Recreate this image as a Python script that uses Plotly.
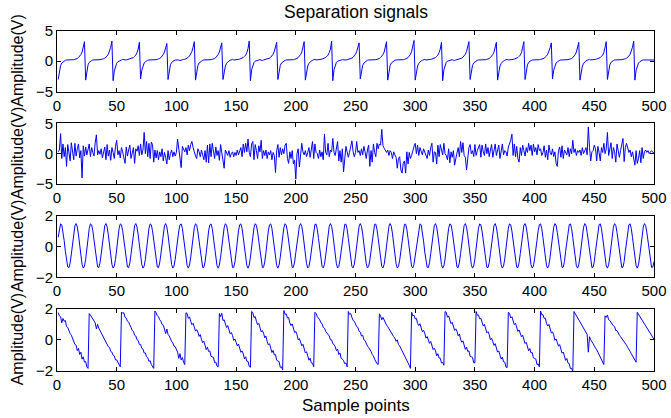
import plotly.graph_objects as go

# ---- separated source signals (500 samples each) ----

# source 1: periodic spike train, one row per period (ends on the spike)
spike_rows = [
    [-3.0, -1.5, -0.7, -0.3, -0.1, 0.1, 0.15, 0.2, 0.2, 0.15, 0.2, 0.25, 0.2, 0.25, 0.3, 0.35, 0.45, 0.6, 0.8, 1.1, 1.5, 2.2, 3.2],
    [-3.1, -1.4, -0.6, -0.2, 0.0, 0.1, 0.2, 0.2, 0.25, 0.2, 0.15, 0.2, 0.25, 0.3, 0.3, 0.4, 0.5, 0.65, 0.85, 1.15, 1.6, 2.3, 3.3],
    [-3.2, -1.6, -0.8, -0.35, -0.1, 0.05, 0.15, 0.2, 0.3, 0.2, 0.2, 0.2, 0.25, 0.3, 0.35, 0.4, 0.5, 0.6, 0.8, 1.0, 1.4, 2.0, 3.1],
    [-2.9, -1.5, -0.7, -0.3, -0.1, 0.1, 0.15, 0.2, 0.2, 0.15, 0.25, 0.2, 0.2, 0.25, 0.3, 0.35, 0.45, 0.6, 0.8, 1.1, 1.5, 2.1, 2.9],
    [-3.0, -1.4, -0.6, -0.2, 0.0, 0.1, 0.2, 0.2, 0.25, 0.2, 0.1, 0.2, 0.25, 0.3, 0.3, 0.4, 0.5, 0.65, 0.85, 1.15, 1.6, 2.3, 3.2],
    [-3.1, -1.5, -0.7, -0.3, -0.1, 0.1, 0.15, 0.2, 0.2, 0.15, 0.2, 0.25, 0.2, 0.25, 0.3, 0.35, 0.45, 0.6, 0.8, 1.1, 1.5, 2.2, 3.0],
    [-3.0, -1.6, -0.8, -0.35, -0.1, 0.05, 0.15, 0.2, 0.3, 0.2, 0.2, 0.2, 0.25, 0.3, 0.35, 0.4, 0.5, 0.6, 0.8, 1.0, 1.4, 2.1, 3.3],
    [-3.2, -1.4, -0.6, -0.2, 0.0, 0.1, 0.2, 0.2, 0.25, 0.2, 0.1, 0.2, 0.25, 0.3, 0.3, 0.4, 0.5, 0.65, 0.85, 1.15, 1.6, 2.3, 3.1],
    [-3.0, -1.5, -0.7, -0.3, -0.1, 0.1, 0.15, 0.2, 0.2, 0.15, 0.2, 0.25, 0.2, 0.25, 0.3, 0.35, 0.45, 0.6, 0.8, 1.1, 1.5, 2.2, 3.2],
    [-3.1, -1.6, -0.8, -0.35, -0.1, 0.05, 0.15, 0.2, 0.3, 0.2, 0.2, 0.2, 0.25, 0.3, 0.35, 0.4, 0.5, 0.6, 0.8, 1.0, 1.4, 2.0, 3.3],
    [-3.2, -1.4, -0.6, -0.2, 0.0, 0.1, 0.2, 0.2, 0.25, 0.2, 0.15, 0.2, 0.25, 0.3, 0.3, 0.4, 0.5, 0.65, 0.85, 1.15, 1.6, 2.3, 3.0],
    [-2.9, -1.5, -0.7, -0.3, -0.1, 0.1, 0.15, 0.2, 0.2, 0.15, 0.25, 0.2, 0.2, 0.25, 0.3, 0.35, 0.45, 0.6, 0.8, 1.1, 1.5, 2.2, 3.2],
    [-3.1, -1.5, -0.7, -0.3, -0.1, 0.1, 0.15, 0.2, 0.2, 0.15, 0.2, 0.25, 0.2, 0.25, 0.3, 0.35, 0.45, 0.6, 0.8, 1.1, 1.6, 2.4, 3.4],
    [-3.1, -1.6, -0.8, -0.35, -0.1, 0.05, 0.15, 0.2, 0.3, 0.2, 0.2, 0.2, 0.25, 0.3, 0.35, 0.4, 0.5, 0.6, 0.8, 1.0, 1.4, 2.0, 3.1],
    [-3.2, -1.4, -0.6, -0.2, 0.0, 0.1, 0.2, 0.2, 0.25, 0.2, 0.1, 0.2, 0.25, 0.3, 0.3, 0.4, 0.5, 0.65, 0.85, 1.15, 1.6, 2.3, 3.2],
    [-3.0, -1.5, -0.7, -0.3, -0.1, 0.1, 0.15, 0.2, 0.2, 0.15, 0.2, 0.25, 0.2, 0.25, 0.3, 0.35, 0.45, 0.6, 0.8, 1.1, 1.5, 2.2, 3.1],
    [-3.1, -1.6, -0.8, -0.35, -0.1, 0.05, 0.15, 0.2, 0.3, 0.2, 0.2, 0.2, 0.25, 0.3, 0.35, 0.4, 0.5, 0.6, 0.8, 1.0, 1.4, 2.1, 3.2],
    [-3.0, -1.4, -0.6, -0.2, 0.0, 0.1, 0.2, 0.2, 0.25, 0.2, 0.15, 0.2, 0.25, 0.3, 0.3, 0.4, 0.5, 0.65, 0.85, 1.15, 1.6, 2.2, 3.0],
    [-2.9, -1.5, -0.7, -0.3, -0.1, 0.1, 0.15, 0.2, 0.2, 0.15, 0.25, 0.2, 0.2, 0.25, 0.3, 0.35, 0.45, 0.6, 0.8, 1.1, 1.5, 2.2, 3.1],
    [-3.1, -1.6, -0.8, -0.35, -0.1, 0.05, 0.15, 0.2, 0.3, 0.2, 0.2, 0.2, 0.25, 0.3, 0.35, 0.4, 0.5, 0.6, 0.8, 1.0, 1.4, 2.1, 3.2],
    [-3.0, -1.4, -0.6, -0.2, 0.0, 0.1, 0.2, 0.2, 0.25, 0.2, 0.15, 0.2, 0.25, 0.3, 0.3, 0.4, 0.5, 0.65, 0.85, 1.15, 1.6, 2.3, 3.3],
]
spike_tail = [-3.1, -1.5, -0.7, -0.3, -0.1, 0.1, 0.15, 0.2, 0.2, 0.15, 0.25, 0.2, 0.2, 0.25, 0.2, 0.25, 0.2]

# source 2: noise-like source, 25 samples per row
noise_rows = [
    [0.3, 0.6, 3.3, -0.8, 1.6, -0.5, 1.0, -2.1, 1.5, 0.3, -1.2, 1.8, 0.2, -1.0, 1.7, -0.4, 0.8, 1.6, -0.7, 0.5, -4.0, 1.3, -0.4, 1.1, -0.2],
    [0.6, 1.6, -0.5, 1.0, 0.2, -0.4, 1.8, 3.1, -0.2, 0.5, -0.1, 0.8, -0.7, 0.3, 1.1, -1.0, 1.5, -0.4, 0.6, -1.1, 1.0, 0.2, -0.8, 1.2, 2.2],
    [-0.2, 0.5, -0.7, 1.0, 0.3, -0.5, -1.6, 1.1, -0.4, 0.6, 1.4, -0.8, 0.3, 1.0, -1.6, 0.8, 0.4, 1.3, -0.3, 1.6, -0.2, 0.6, 3.5, 0.0, 2.0],
    [-0.5, 1.7, -0.8, 1.9, 1.5, -1.4, 0.6, -0.7, 0.5, -1.0, 0.3, -0.5, 0.8, -1.2, 0.2, -0.6, -1.7, 0.5, -1.0, 0.0, 0.6, -0.5, 0.3, -0.4, 0.2],
    [2.4, 0.5, -0.8, -2.3, 1.2, 0.8, 0.3, 1.0, -0.2, 1.4, 0.5, 1.5, 2.0, 1.0, 0.2, -0.4, -0.8, 0.8, 0.3, -0.5, 0.6, -0.2, -1.0, 0.5, -1.4],
    [1.4, -1.5, 1.6, -0.5, 1.7, 0.2, -0.8, 1.1, -0.3, 0.5, -1.1, 1.5, 0.3, -0.6, -2.4, 0.6, 0.2, -0.3, 0.5, -0.6, 0.0, 0.3, -0.5, 0.2, -0.3],
    [0.6, -0.2, 0.3, 1.0, -0.5, 1.6, 0.2, 1.7, 0.3, 2.4, 0.2, -0.5, 1.6, 2.0, -1.0, 1.5, 0.5, -0.8, 1.3, 0.3, 2.2, -0.8, 0.5, -0.3, 0.6],
    [-0.8, 0.3, -0.2, 0.5, -1.0, 0.2, -0.3, -3.1, 0.5, 1.5, -0.6, 1.0, -0.2, 0.8, 0.0, 1.4, 1.7, -0.8, -1.6, 0.3, -0.8, 0.5, -1.7, -1.1, -4.2],
    [0.0, 0.8, -2.2, 0.5, 1.7, 0.3, -0.2, 0.5, -0.5, 0.2, 1.0, -0.6, 0.5, 2.0, -0.8, 1.6, 0.2, 0.0, -0.8, 0.6, -0.5, 0.3, -1.0, 3.2, 0.2],
    [-0.2, 1.7, -0.5, 0.6, 0.3, 2.5, 0.2, -0.3, 1.1, 2.0, -1.2, 0.5, -1.4, 0.8, -3.0, -0.8, 1.2, 0.3, -0.6, 0.2, 1.5, 2.1, 0.3, -0.5, 0.2],
    [2.0, 0.2, 0.5, -0.3, 0.8, -0.2, 1.2, 0.3, -0.8, 0.6, 1.4, -2.1, 0.5, -1.4, 1.6, 0.2, -0.5, 1.7, 0.8, 1.6, 1.4, 4.0, 1.3, 0.9, 0.5],
    [0.2, 0.6, -0.3, 0.5, 0.2, -0.8, 0.3, -0.2, -0.6, -2.4, -0.8, -0.5, -2.7, -3.2, -1.6, -1.2, -3.2, 0.3, -1.7, 0.2, -0.8, -0.3, 0.6, 1.2, 1.7],
    [0.0, 1.4, -0.3, 1.0, 0.5, -0.2, 0.8, 0.3, 0.0, -0.8, 0.6, -0.3, 1.0, 1.7, -1.4, 0.3, 0.2, -1.7, 1.4, -0.5, 1.5, 0.3, -0.2, 1.7, 0.0],
    [-0.3, -1.0, 0.8, -1.5, 0.3, -0.6, 0.5, -1.9, -0.8, 0.5, 1.0, -0.5, 2.0, 0.2, 1.8, -0.3, -0.6, -2.7, -0.6, 1.0, 1.5, 0.0, 0.5, -0.5, 1.5],
    [-0.3, 0.5, 1.2, 1.5, -0.6, 1.4, 0.3, -0.3, 1.6, 0.0, 1.0, -0.5, 0.6, 1.5, -0.6, 0.5, 1.6, -0.3, 0.8, 1.4, -0.8, 0.3, 1.6, -0.2, 0.5],
    [0.3, -0.4, 1.1, 1.6, 2.2, 3.2, -0.3, 1.6, -0.5, 1.2, -0.8, -1.4, 1.0, -0.3, 1.4, 0.5, -0.4, 1.0, 0.2, 1.7, 0.5, 1.4, -0.3, 1.6, 0.3],
    [1.0, -0.2, 1.5, 0.5, 0.8, -0.3, 0.2, 1.3, -0.6, 0.6, -1.0, 1.4, 0.2, -0.2, 0.8, -0.5, 0.3, -1.6, -2.1, 0.5, 1.1, -0.6, 1.3, -0.8, 0.6],
    [0.3, -0.2, 1.0, -0.5, 0.8, 0.0, 2.2, 0.2, 0.8, -0.3, 0.5, 0.2, 0.6, -0.3, 1.0, 0.0, 0.5, 1.0, -0.2, 4.4, 1.0, -1.2, 0.3, 0.5, 1.4],
    [0.8, -1.2, 1.2, 0.2, -1.2, 1.0, 0.2, 1.7, 0.0, 0.8, 3.5, -0.3, 0.5, 1.8, -0.8, 1.0, 0.3, -1.4, 1.6, 0.2, -0.6, 0.5, 1.3, 2.5, -1.3],
    [1.0, 1.7, 1.0, 0.2, 0.6, -0.5, 0.3, -1.0, -1.9, 0.5, -1.6, -0.8, 0.5, -1.5, 1.0, -0.8, 0.3, 0.6, 0.2, 0.5, 0.0, 0.3, 0.5, 0.2, 0.1],
]

# source 3: sinusoid, 25 samples (two periods) per row
sine_rows = [
    [0.61, 1.18, 1.48, 1.42, 1.03, 0.40, -0.32, -0.95, -1.33, -1.37, -1.07, -0.49, 0.23, 0.90, 1.36, 1.50, 1.28, 0.76, 0.07, -0.63, -1.16, -1.40, -1.27, -0.83, -0.16],
    [0.61, 1.18, 1.48, 1.42, 1.03, 0.40, -0.32, -0.95, -1.33, -1.37, -1.07, -0.49, 0.23, 0.90, 1.36, 1.50, 1.28, 0.76, 0.07, -0.63, -1.16, -1.40, -1.27, -0.83, -0.16],
    [0.61, 1.18, 1.48, 1.42, 1.03, 0.40, -0.32, -0.95, -1.33, -1.37, -1.07, -0.49, 0.23, 0.90, 1.36, 1.50, 1.28, 0.76, 0.07, -0.63, -1.16, -1.40, -1.27, -0.83, -0.16],
    [0.61, 1.18, 1.48, 1.42, 1.03, 0.40, -0.32, -0.95, -1.33, -1.37, -1.07, -0.49, 0.23, 0.90, 1.36, 1.50, 1.28, 0.76, 0.07, -0.63, -1.16, -1.40, -1.27, -0.83, -0.16],
    [0.39, 1.02, 1.42, 1.48, 1.19, 0.62, -0.09, -0.77, -1.24, -1.40, -1.20, -0.69, 0.00, 0.70, 1.24, 1.49, 1.39, 0.96, 0.30, -0.42, -1.02, -1.36, -1.35, -1.00, -0.39],
    [0.39, 1.02, 1.42, 1.48, 1.19, 0.62, -0.09, -0.77, -1.24, -1.40, -1.20, -0.69, 0.00, 0.70, 1.24, 1.49, 1.39, 0.96, 0.30, -0.42, -1.02, -1.36, -1.35, -1.00, -0.39],
    [0.39, 1.02, 1.42, 1.48, 1.19, 0.62, -0.09, -0.77, -1.24, -1.40, -1.20, -0.69, 0.00, 0.70, 1.24, 1.49, 1.39, 0.96, 0.30, -0.42, -1.02, -1.36, -1.35, -1.00, -0.39],
    [0.39, 1.02, 1.42, 1.48, 1.19, 0.62, -0.09, -0.77, -1.24, -1.40, -1.20, -0.69, 0.00, 0.70, 1.24, 1.49, 1.39, 0.96, 0.30, -0.42, -1.02, -1.36, -1.35, -1.00, -0.39],
    [0.16, 0.84, 1.33, 1.50, 1.32, 0.83, 0.14, -0.57, -1.12, -1.39, -1.30, -0.88, -0.24, 0.48, 1.09, 1.45, 1.46, 1.13, 0.53, -0.19, -0.85, -1.29, -1.39, -1.15, -0.61],
    [0.16, 0.84, 1.33, 1.50, 1.32, 0.83, 0.14, -0.57, -1.12, -1.39, -1.30, -0.88, -0.24, 0.48, 1.09, 1.45, 1.46, 1.13, 0.53, -0.19, -0.85, -1.29, -1.39, -1.15, -0.61],
    [0.16, 0.84, 1.33, 1.50, 1.32, 0.83, 0.14, -0.57, -1.12, -1.39, -1.30, -0.88, -0.24, 0.48, 1.09, 1.45, 1.46, 1.13, 0.53, -0.19, -0.85, -1.29, -1.39, -1.15, -0.61],
    [0.16, 0.84, 1.33, 1.50, 1.32, 0.83, 0.14, -0.57, -1.12, -1.39, -1.30, -0.88, -0.24, 0.48, 1.09, 1.45, 1.46, 1.13, 0.53, -0.19, -0.85, -1.29, -1.39, -1.15, -0.61],
    [-0.08, 0.63, 1.20, 1.48, 1.42, 1.01, 0.37, -0.35, -0.97, -1.34, -1.37, -1.05, -0.46, 0.26, 0.92, 1.37, 1.50, 1.27, 0.74, 0.04, -0.66, -1.18, -1.40, -1.26, -0.81],
    [-0.08, 0.63, 1.20, 1.48, 1.42, 1.01, 0.37, -0.35, -0.97, -1.34, -1.37, -1.05, -0.46, 0.26, 0.92, 1.37, 1.50, 1.27, 0.74, 0.04, -0.66, -1.18, -1.40, -1.26, -0.81],
    [-0.08, 0.63, 1.20, 1.48, 1.42, 1.01, 0.37, -0.35, -0.97, -1.34, -1.37, -1.05, -0.46, 0.26, 0.92, 1.37, 1.50, 1.27, 0.74, 0.04, -0.66, -1.18, -1.40, -1.26, -0.81],
    [-0.08, 0.63, 1.20, 1.48, 1.42, 1.01, 0.37, -0.35, -0.97, -1.34, -1.37, -1.05, -0.46, 0.26, 0.92, 1.37, 1.50, 1.27, 0.74, 0.04, -0.66, -1.18, -1.40, -1.26, -0.81],
    [-0.31, 0.41, 1.04, 1.43, 1.48, 1.17, 0.59, -0.12, -0.79, -1.25, -1.40, -1.19, -0.67, 0.02, 0.72, 1.26, 1.50, 1.38, 0.93, 0.27, -0.44, -1.04, -1.36, -1.34, -0.98],
    [-0.31, 0.41, 1.04, 1.43, 1.48, 1.17, 0.59, -0.12, -0.79, -1.25, -1.40, -1.19, -0.67, 0.02, 0.72, 1.26, 1.50, 1.38, 0.93, 0.27, -0.44, -1.04, -1.36, -1.34, -0.98],
    [-0.31, 0.41, 1.04, 1.43, 1.48, 1.17, 0.59, -0.12, -0.79, -1.25, -1.40, -1.19, -0.67, 0.02, 0.72, 1.26, 1.50, 1.38, 0.93, 0.27, -0.44, -1.04, -1.36, -1.34, -0.98],
    [-0.31, 0.41, 1.04, 1.43, 1.48, 1.17, 0.59, -0.12, -0.79, -1.25, -1.40, -1.19, -0.67, 0.02, 0.72, 1.26, 1.50, 1.38, 0.93, 0.27, -0.44, -1.04, -1.36, -1.34, -0.98],
]

# source 4: noisy sawtooth, one row per tooth
saw_rows = [
    [1.76, 1.55, 1.50, 1.10, 1.38, 1.20, 1.25, 0.85, 0.80, 0.55, 0.40, 0.30, 0.05, -0.05, -0.30, -0.35, -0.70, -0.55, -0.95, -0.80, -1.25, -1.10, -1.45, -1.40, -1.75, -1.85],
    [1.70, 1.60, 1.45, 1.35, 1.20, 1.10, 0.70, 1.00, 0.75, 0.60, 0.45, 0.30, 0.15, 0.05, -0.20, -0.25, -0.45, -0.50, -0.75, -0.80, -1.00, -1.05, -1.30, -1.30, -1.45, -1.60, -1.75],
    [1.80, 1.72, 1.75, 1.45, 1.40, 1.20, 1.15, 0.90, 0.80, 0.60, 0.55, 0.30, 0.25, 0.00, -0.05, -0.30, -0.30, -0.55, -0.60, -0.85, -0.85, -1.10, -1.15, -1.40, -1.35, -1.60, -1.70, -1.85],
    [1.86, 1.75, 1.55, 1.50, 1.30, 1.20, 1.00, 0.95, 0.70, 0.40, 0.70, 0.35, 0.25, 0.05, -0.10, -0.20, -0.40, -0.45, -0.65, -0.80, -1.20, -0.90, -1.30, -1.15, -1.45, -1.60],
    [1.75, 1.70, 1.39, 1.48, 1.18, 0.98, 1.07, 0.84, 0.56, 0.66, 0.50, 0.22, 0.34, 0.01, -0.18, -0.09, -0.30, -0.63, -0.48, -0.76, -0.72, -1.07, -1.10, -1.13, -1.48, -1.44, -1.70, -1.75],
    [1.70, 1.50, 1.72, 1.25, 1.29, 0.96, 0.80, 0.92, 0.62, 0.39, 0.47, 0.29, -0.04, 0.05, -0.16, -0.39, -0.27, -0.62, -0.81, -0.72, -0.91, -1.24, -1.10, -1.39, -1.40, -1.72, -1.78],
    [1.83, 1.76, 1.44, 1.51, 1.20, 0.98, 1.06, 0.81, 0.52, 0.60, 0.43, 0.13, 0.24, -0.11, -0.33, -0.25, -0.48, -0.82, -0.69, -0.98, -0.96, -1.32, -1.37, -1.41, -1.78, -1.75, -1.95],
    [1.90, 1.65, 1.67, 1.41, 1.44, 1.09, 0.92, 1.03, 0.71, 0.47, 0.54, 0.34, 0.00, 0.08, -0.14, -0.39, -0.29, -0.64, -0.85, -0.77, -0.98, -1.32, -1.19, -1.50, -1.52, -1.75],
    [1.78, 1.70, 1.50, 1.40, 1.30, 1.10, 1.05, 0.80, 0.75, 0.55, 0.45, 0.30, 0.25, 0.00, 0.00, -0.25, -0.30, -0.45, -0.70, -0.60, -0.95, -0.85, -1.20, -1.25, -1.35, -1.55, -1.50, -1.75],
    [1.83, 1.65, 1.70, 1.45, 1.25, 1.20, 1.00, 0.85, 0.80, 0.55, 0.50, 0.25, 0.30, 0.00, -0.05, -0.25, -0.40, -0.50, -0.60, -0.75, -0.95, -1.05, -1.25, -1.45, -1.55, -1.60],
    [1.68, 1.55, 1.30, 1.45, 1.25, 1.15, 0.95, 0.85, 0.70, 0.60, 0.50, 0.30, 0.20, 0.10, -0.10, 0.00, -0.30, -0.40, -0.55, -0.70, -0.85, -1.00, -1.10, -1.30, -1.45, -1.65, -1.85],
    [1.78, 1.55, 1.59, 1.35, 1.39, 1.06, 0.92, 1.04, 0.74, 0.52, 0.61, 0.43, 0.11, 0.21, 0.00, -0.23, -0.11, -0.44, -0.63, -0.54, -0.72, -1.04, -0.90, -1.18, -1.19, -1.50, -1.46, -1.65],
    [1.83, 1.78, 1.46, 1.55, 1.25, 1.04, 1.13, 0.90, 0.61, 0.71, 0.55, 0.26, 0.38, 0.05, -0.16, -0.07, -0.28, -0.62, -0.47, -0.75, -0.72, -1.07, -1.10, -1.14, -1.49, -1.50],
    [1.83, 1.59, 1.61, 1.36, 1.39, 1.05, 0.89, 1.00, 0.69, 0.45, 0.53, 0.34, 0.00, 0.10, -0.12, -0.36, -0.25, -0.60, -0.80, -0.72, -0.92, -1.25, -1.12, -1.42, -1.44, -1.76, -1.80],
    [1.78, 1.72, 1.41, 1.49, 1.19, 0.98, 1.07, 0.83, 0.54, 0.64, 0.47, 0.19, 0.30, -0.04, -0.24, -0.16, -0.37, -0.71, -0.57, -0.85, -0.82, -1.17, -1.21, -1.24, -1.60, -1.56, -1.75],
    [1.86, 1.62, 1.63, 1.38, 1.40, 1.06, 0.89, 1.00, 0.68, 0.44, 0.51, 0.32, -0.03, 0.06, -0.17, -0.41, -0.31, -0.66, -0.87, -0.79, -1.00, -1.33, -1.21, -1.51, -1.54, -1.86, -1.85, -2.05],
    [1.83, 1.70, 1.60, 1.45, 1.30, 1.20, 1.00, 0.90, 0.80, 0.60, 0.50, 0.35, -0.80, 0.20, 0.00, -0.10, -0.25, -0.40, -0.50, -0.65, -0.80, -0.95, -1.10, -1.25, -1.45, -1.60],
    [1.55, 1.45, 1.60, 1.30, 1.25, 1.10, 1.00, 0.90, 0.85, 0.60, 0.60, 0.40, 0.30, 0.20, 0.10, -0.05, -0.10, -0.25, -0.35, -0.50, -0.60, -0.75, -0.90, -1.05, -1.20, -1.30, -1.45],
    [1.78, 1.65, 1.55, 1.40, 1.35, 1.15, 1.05, 0.90, 0.75, 0.65, 0.50, 0.40, 0.25, 0.15, 0.03],
]

x_ticks = [0, 50, 100, 150, 200, 250, 300, 350, 400, 450, 500]
y_ranges = [[-5, 5], [-5, 5], [-2, 2], [-2, 2]]
y_ticks = [[-5, 0, 5], [-5, 0, 5], [-2, 0, 2], [-2, 0, 2]]

title_text = "Separation signals"
x_title = "Sample points"
y_title = "Amplitude(V)"


def flatten(rows):
    return [v for row in rows for v in row]


signals = [
    flatten(spike_rows) + spike_tail,
    flatten(noise_rows),
    flatten(sine_rows),
    flatten(saw_rows),
]

W, H = 671, 418
FONT = "Liberation Sans, Arial, Helvetica, sans-serif"
LINE_BLUE = "#0000ff"

# plot-area geometry in pixels (left, right, and top/bottom of each panel)
px_left, px_right = 57, 654
panel_px = [(30.7, 91.7), (123.3, 184.0), (215.9, 277.3), (308.9, 370.7)]

fig = go.Figure()
axis_common = dict(
    showline=True, mirror="ticks", linecolor="black", linewidth=1,
    ticks="inside", ticklen=4, tickcolor="black", tickwidth=1,
    showgrid=False, zeroline=False, automargin=False,
    tickfont=dict(family=FONT, size=15, color="black"),
)

for i, sig in enumerate(signals):
    n = i + 1
    xs = list(range(1, len(sig) + 1))
    xa = "x" if n == 1 else f"x{n}"
    ya = "y" if n == 1 else f"y{n}"
    fig.add_trace(go.Scatter(
        x=xs, y=sig, mode="lines", xaxis=xa, yaxis=ya,
        line=dict(color=LINE_BLUE, width=1), showlegend=False,
        hoverinfo="skip",
    ))
    top, bot = panel_px[i]
    xkey = "xaxis" if n == 1 else f"xaxis{n}"
    ykey = "yaxis" if n == 1 else f"yaxis{n}"
    fig.layout[xkey] = dict(
        axis_common,
        domain=[px_left / W, px_right / W],
        range=[0, 500], tickvals=x_ticks,
        anchor=ya,
    )
    fig.layout[ykey] = dict(
        axis_common,
        domain=[1 - bot / H, 1 - top / H],
        range=y_ranges[i], tickvals=y_ticks[i],
        anchor=xa,
    )
    fig.add_annotation(
        text=y_title, textangle=-90, showarrow=False,
        xref="paper", yref="paper",
        x=17.5 / W, y=1 - (top + bot) / 2 / H,
        xanchor="center", yanchor="middle",
        font=dict(family=FONT, size=16, color="black"),
    )

fig.add_annotation(
    text=title_text, showarrow=False, xref="paper", yref="paper",
    x=(px_left + px_right) / 2 / W, y=1 - 12.5 / H,
    xanchor="center", yanchor="middle",
    font=dict(family=FONT, size=17.5, color="black"),
)
fig.add_annotation(
    text=x_title, showarrow=False, xref="paper", yref="paper",
    x=(px_left + px_right) / 2 / W, y=1 - 405 / H,
    xanchor="center", yanchor="middle",
    font=dict(family=FONT, size=17, color="black"),
)

fig.update_layout(
    width=W, height=H,
    margin=dict(l=0, r=0, t=0, b=0),
    paper_bgcolor="white", plot_bgcolor="white",
)

fig.write_html("out.html")
